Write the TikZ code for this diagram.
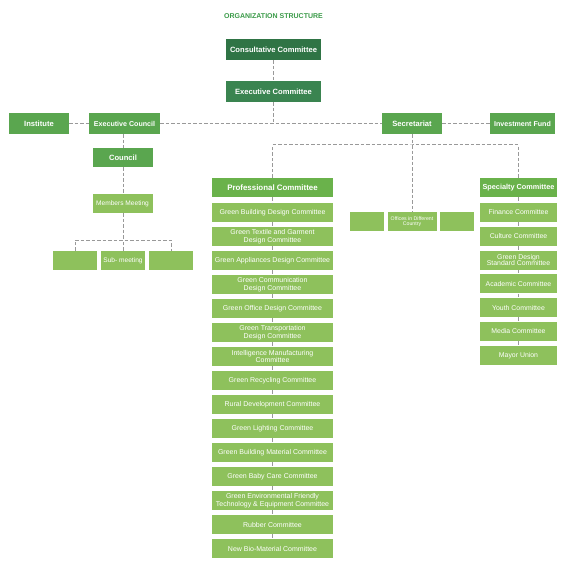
\documentclass[tikz,border=0pt]{standalone}
\usepackage{fontspec}
\setmainfont{Liberation Sans}
\definecolor{gdark}{HTML}{2F7445}
\definecolor{gdark2}{HTML}{3A8450}
\definecolor{gmid}{HTML}{5AA64F}
\definecolor{ghead}{HTML}{6AB24B}
\definecolor{glight}{HTML}{8EC15C}
\definecolor{gtitle}{HTML}{3A9A48}
\definecolor{lgray}{HTML}{999999}
\tikzset{
  box/.style={inner sep=0pt, text=white, align=center, minimum height=19pt},
  bigbox/.style={box, font=\bfseries\fontsize{7.6}{8}\selectfont, minimum height=21pt},
  darkbox/.style={bigbox, fill=gdark},
  darkbox2/.style={bigbox, fill=gdark2},
  midbox/.style={bigbox, fill=gmid},
  tightfont/.style={font=\bfseries\fontsize{7.1}{8}\selectfont},
  headbox/.style={box, fill=ghead, font=\bfseries\fontsize{7.9}{8}\selectfont},
  combox/.style={box, fill=glight, font=\fontsize{7}{7.6}\selectfont, minimum width=121pt},
  spcbox/.style={box, fill=glight, font=\fontsize{6.9}{6.6}\selectfont, minimum width=77pt},
  smallbox/.style={box, fill=glight, font=\fontsize{6.6}{7}\selectfont},
  tinybox/.style={box, fill=glight, font=\fontsize{5.2}{5.6}\selectfont},
  conn/.style={draw=lgray, line width=1pt, dash pattern=on 3.5pt off 2pt}
}
\begin{document}
\begin{tikzpicture}[x=1pt,y=-1pt]
\useasboundingbox (0,0) rectangle (569,572);
\node[text=gtitle, font=\bfseries\fontsize{7}{8}\selectfont] (title) at (273.5,16) {ORGANIZATION STRUCTURE};
\node[darkbox, minimum width=95pt] (cons) at (273.5,49.5) {Consultative Committee};
\node[darkbox2, minimum width=95pt] (exc) at (273.5,91.5) {Executive Committee};
\node[midbox, minimum width=60pt] (inst) at (39,123.5) {Institute};
\node[midbox, tightfont, minimum width=71pt] (ecl) at (124.5,123.5) {Executive Council};
\node[midbox, minimum width=60pt] (sec) at (412,123.5) {Secretariat};
\node[midbox, tightfont, minimum width=65pt] (inv) at (522.5,123.5) {Investment Fund};
\node[box, fill=gmid, font=\bfseries\fontsize{7.6}{8}\selectfont, minimum width=60pt] (coun) at (123,157.5) {Council};
\node[smallbox, minimum width=60pt] (mm) at (122.5,203.5) {Members Meeting};
\node[smallbox, minimum width=44pt] (s1) at (75,260.5) {};
\node[smallbox, minimum width=44pt] (s2) at (123,260.5) {Sub- meeting};
\node[smallbox, minimum width=44pt] (s3) at (171,260.5) {};
\node[tinybox, minimum width=34pt] (o1) at (367,221.5) {};
\node[tinybox, minimum width=49pt] (o2) at (412,221.5) {Offices in Different\\Country};
\node[tinybox, minimum width=34pt] (o3) at (456.5,221.5) {};
% Professional column
\node[headbox, minimum width=121pt] (prof) at (272.5,187.5) {Professional Committee};
\foreach \i/\t in {1/{Green Building Design Committee},
  2/{Green Textile and Garment\\Design Committee},
  3/{Green Appliances Design Committee},
  4/{Green Communication\\Design Committee},
  5/{Green Office Design Committee},
  6/{Green Transportation\\Design Committee},
  7/{Intelligence Manufacturing\\Committee},
  8/{Green Recycling Committee},
  9/{Rural Development Committee},
  10/{Green Lighting Committee},
  11/{Green Building Material Committee},
  12/{Green Baby Care Committee},
  13/{Green Environmental Friendly\\Technology \& Equipment Committee},
  14/{Rubber Committee},
  15/{New Bio-Material Committee}}
  \node[combox] (p\i) at (272.5,{212.5+24*(\i-1)}) {\t};
% Specialty column
\node[headbox, font=\bfseries\fontsize{7.3}{8}\selectfont, minimum width=77pt] (spec) at (518.5,187.5) {Specialty Committee};
\foreach \i/\t in {1/{Finance Committee},
  2/{Culture Committee},
  3/{Green Design\\Standard Committee},
  4/{Academic Committee},
  5/{Youth Committee},
  6/{Media Committee},
  7/{Mayor Union}}
  \node[spcbox] (q\i) at (518.5,{212.5+23.8*(\i-1)}) {\t};
% connectors
\draw[conn] (cons.south) -- (exc.north);
\draw[conn] (exc.south) -- (exc.south |- ecl.east);
\draw[conn] (inst.east) -- (ecl.west);
\draw[conn] (ecl.east) -- (sec.west);
\draw[conn] (sec.east) -- (inv.west);
\draw[conn] (coun.north |- ecl.south) -- (coun.north);
\draw[conn] (coun.south) -- (coun.south |- mm.north);
\coordinate (mb) at (123,240);
\draw[conn] (mm.south -| mb) -- (mb);
\draw[conn] (s1.north) |- (mb) -| (s3.north);
\draw[conn] (s2.north) -- (s2.north |- mb);
\coordinate (sb) at (412,145);
\draw[conn] (sec.south) -- (o2.north);
\draw[conn] (prof.north) |- (sb) -| (spec.north);
\draw[conn] (prof.south) -- (p1.north);
\foreach \i [evaluate=\i as \j using int(\i+1)] in {1,...,14}
  \draw[conn] (p\i.south) -- (p\j.north);
\draw[conn] (spec.south) -- (q1.north);
\foreach \i [evaluate=\i as \j using int(\i+1)] in {1,...,6}
  \draw[conn] (q\i.south) -- (q\j.north);
\end{tikzpicture}
\end{document}
